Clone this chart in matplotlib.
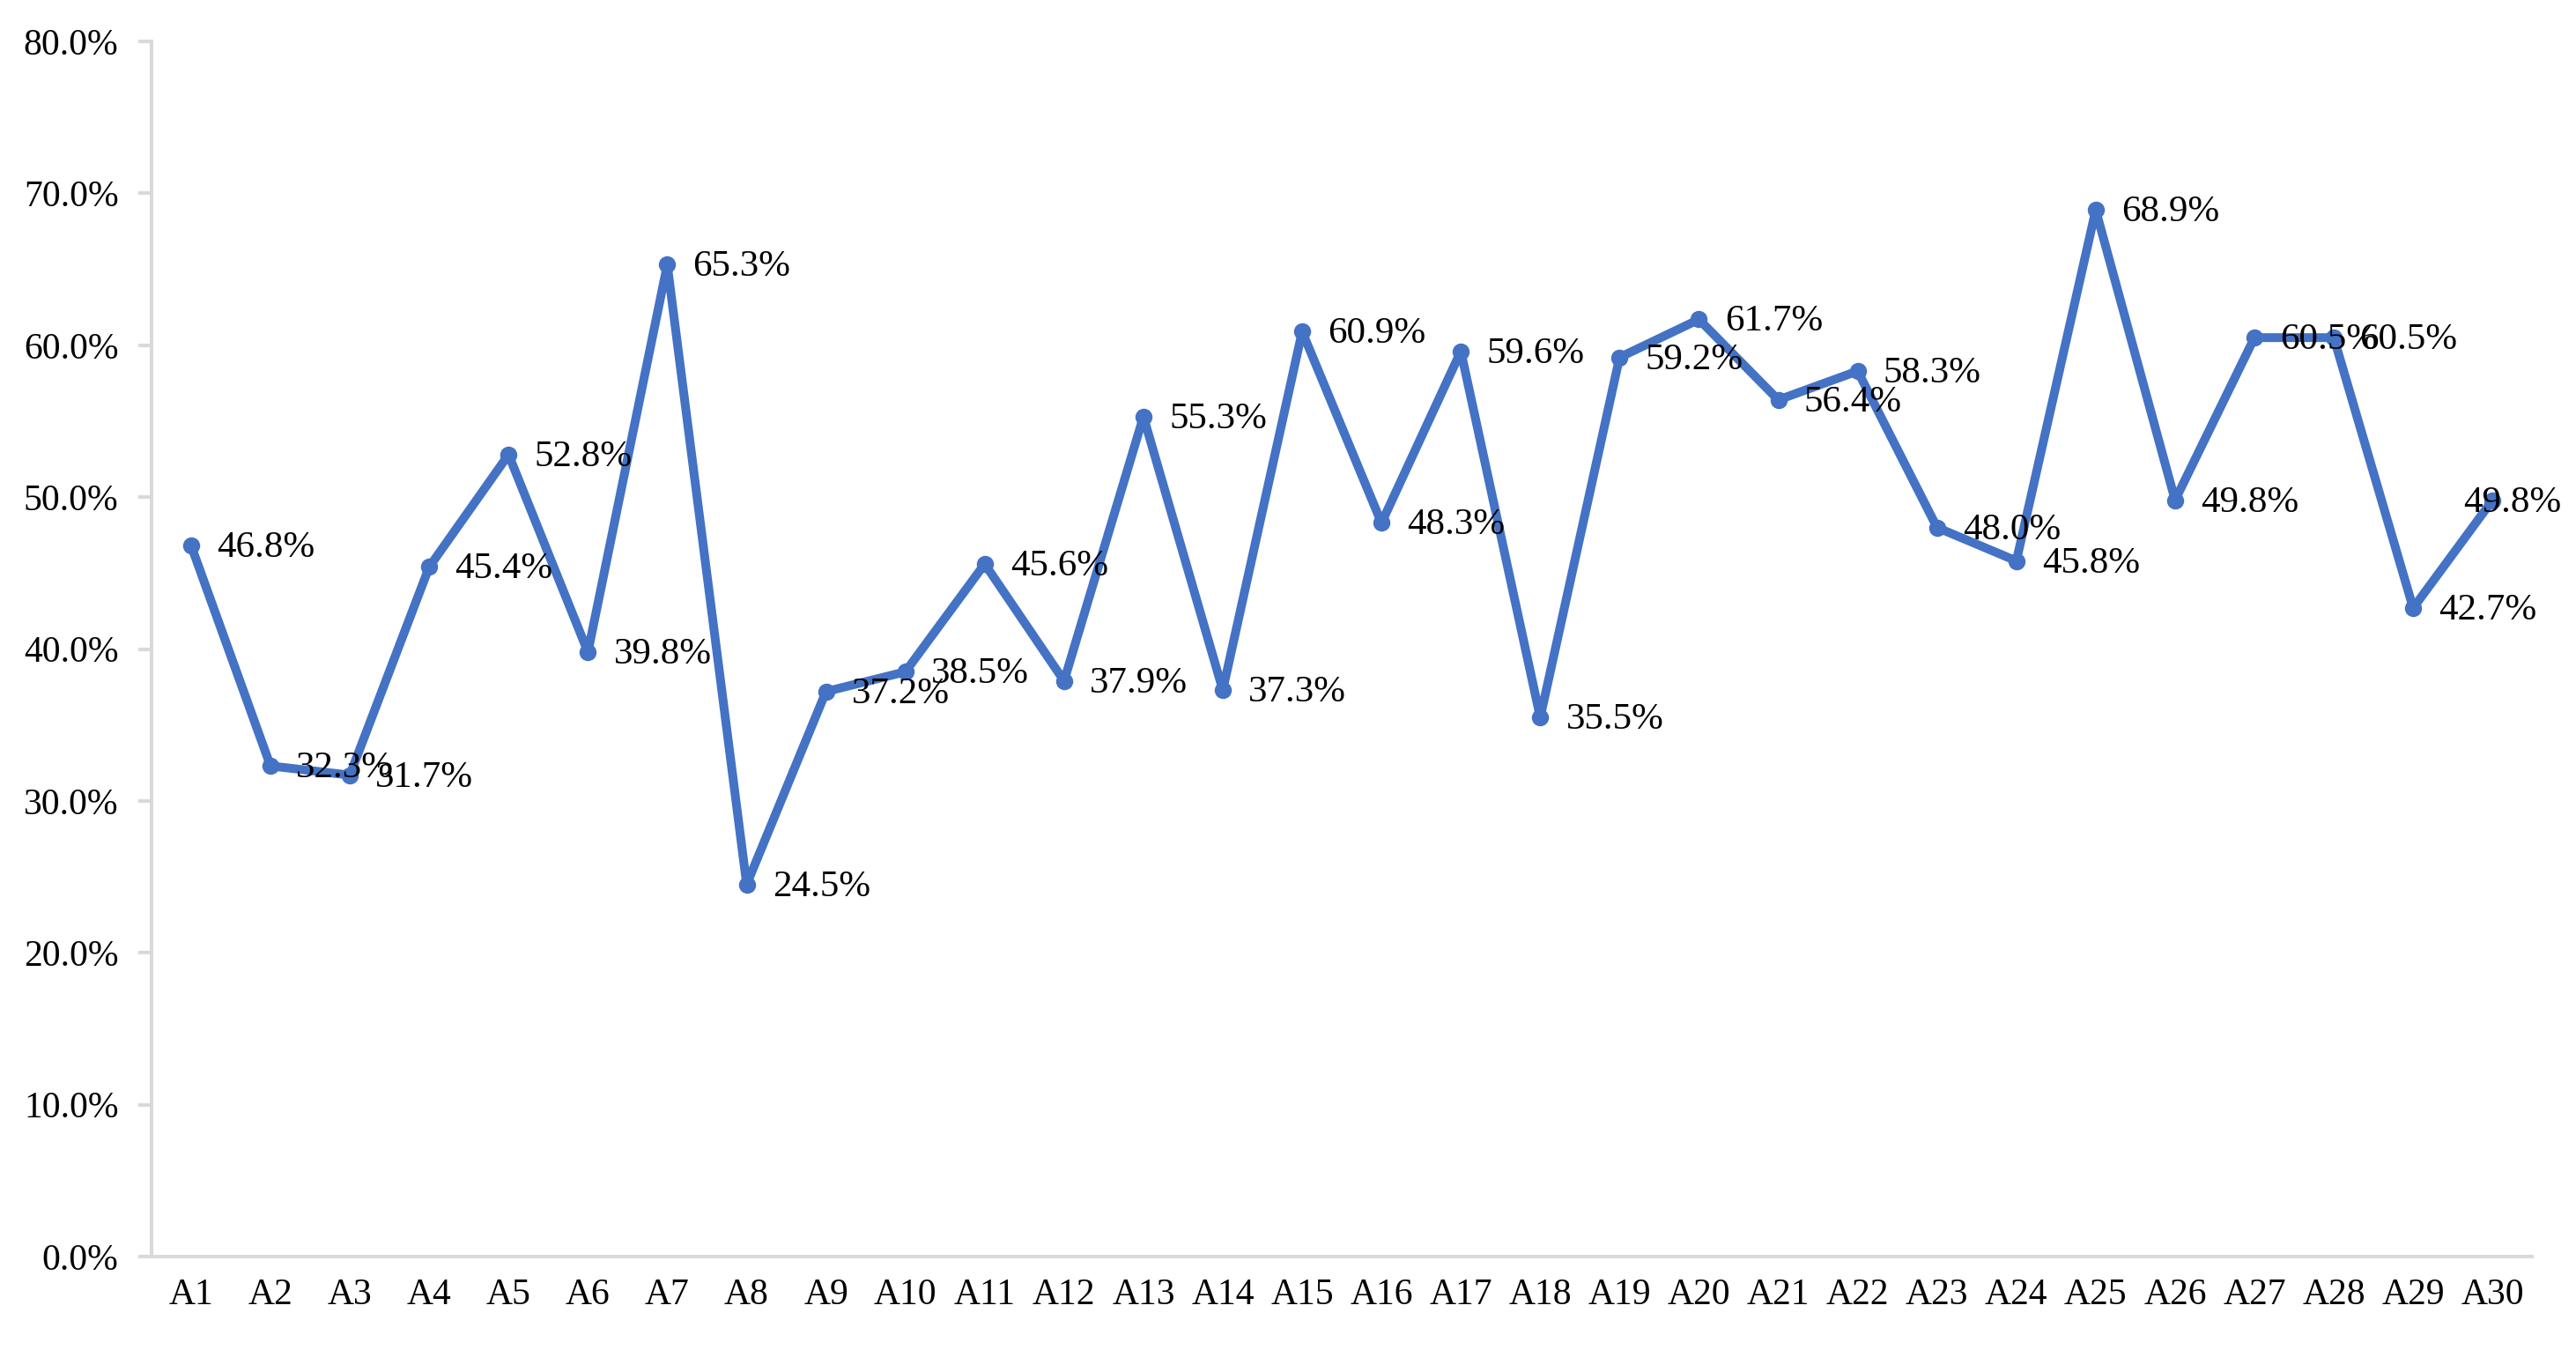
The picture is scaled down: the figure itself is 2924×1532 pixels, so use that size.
import matplotlib
matplotlib.use("Agg")
import matplotlib.pyplot as plt
from matplotlib.ticker import FuncFormatter, MultipleLocator

categories = [f"A{i}" for i in range(1, 31)]
values = [46.8, 32.3, 31.7, 45.4, 52.8, 39.8, 65.3, 24.5, 37.2, 38.5,
          45.6, 37.9, 55.3, 37.3, 60.9, 48.3, 59.6, 35.5, 59.2, 61.7,
          56.4, 58.3, 48.0, 45.8, 68.9, 49.8, 60.5, 60.5, 42.7, 49.8]

plt.rcParams['font.family'] = ['Liberation Serif', 'DejaVu Serif']

fig = plt.figure(figsize=(29.24, 15.32), dpi=100)
ax = fig.add_axes([0.0588, 0.0692, 0.9242, 0.9001])

x = list(range(len(categories)))
color = '#4472C4'
ax.plot(x, values, color=color, linewidth=7.2, marker='o', markersize=13,
        solid_joinstyle='round', zorder=3)

for i, v in enumerate(values):
    dx = 21 if i < len(values) - 1 else -24
    ax.annotate(f"{v:.1f}%", (i, v), xytext=(dx, -2), textcoords='offset points',
                ha='left', va='center', fontsize=31, color='black', zorder=4)

ax.set_xlim(-0.5, len(categories) - 0.5)
ax.set_ylim(0, 80)
ax.yaxis.set_major_locator(MultipleLocator(10))
ax.yaxis.set_major_formatter(FuncFormatter(lambda v, p: f"{v:.1f}%"))
ax.set_xticks(x)
ax.set_xticklabels(categories)

for s in ['top', 'right']:
    ax.spines[s].set_visible(False)
for s in ['left', 'bottom']:
    ax.spines[s].set_color('#D9D9D9')
    ax.spines[s].set_linewidth(2.9)

ax.tick_params(axis='y', length=11, width=2.9, color='#D9D9D9', pad=16, labelsize=30)
ax.tick_params(axis='x', length=0, pad=18, labelsize=30)

fig.savefig('out.png', dpi=100, facecolor='white')
